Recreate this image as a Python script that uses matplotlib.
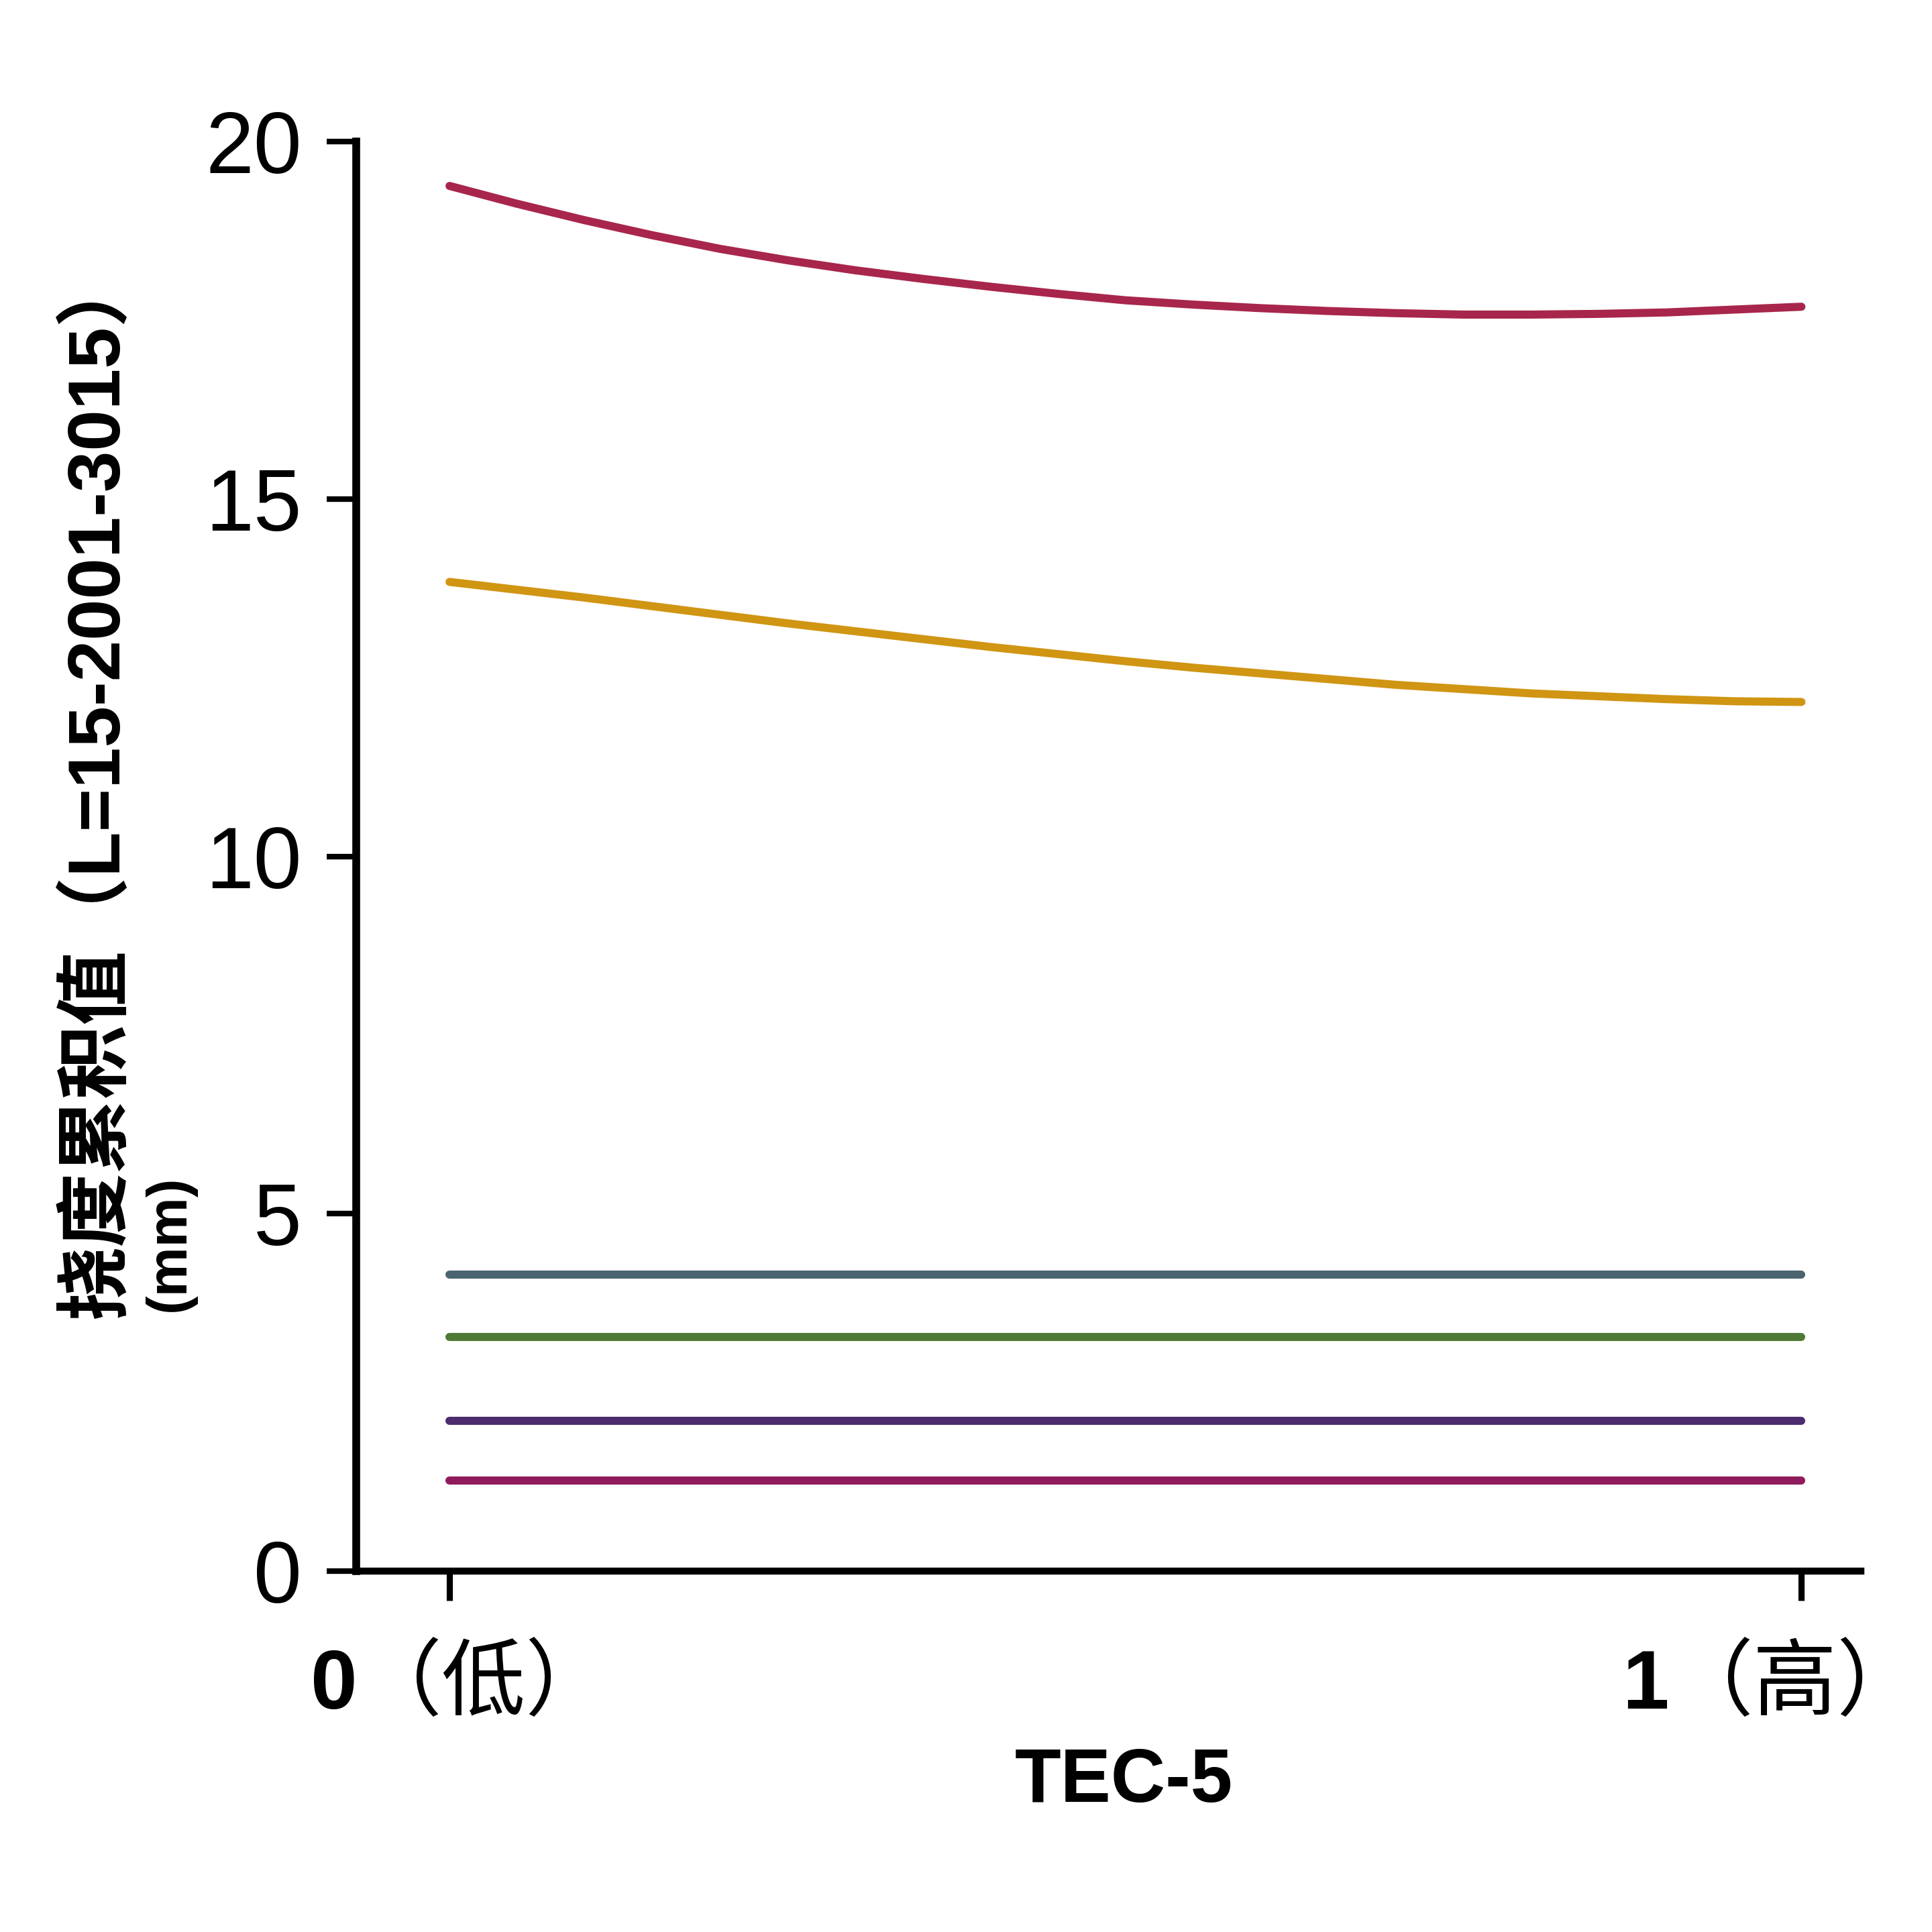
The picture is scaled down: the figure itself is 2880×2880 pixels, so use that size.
import numpy as np
import matplotlib
matplotlib.use("Agg")
import matplotlib.pyplot as plt
import matplotlib.transforms as mtransforms

plt.rcParams['font.family'] = ['Liberation Sans', 'Noto Sans CJK SC', 'DejaVu Sans']

# TEC-5 level (0 = low, 1 = high)
x_curve = [0.0, 0.05, 0.1, 0.15, 0.2, 0.25, 0.3, 0.35, 0.4, 0.45, 0.5,
           0.55, 0.6, 0.65, 0.7, 0.75, 0.8, 0.85, 0.9, 0.95, 1.0]
red_vals = [19.38, 19.13, 18.90, 18.69, 18.50, 18.34, 18.20, 18.08, 17.97, 17.87, 17.78,
            17.72, 17.67, 17.63, 17.60, 17.58, 17.58, 17.59, 17.61, 17.65, 17.69]
yellow_vals = [13.84, 13.73, 13.62, 13.50, 13.38, 13.26, 13.15, 13.04, 12.93, 12.83, 12.73,
               12.64, 12.56, 12.48, 12.40, 12.34, 12.28, 12.24, 12.20, 12.17, 12.16]

x_flat = [0.0, 1.0]
teal_vals = [4.15, 4.15]
green_vals = [3.28, 3.28]
purple_vals = [2.10, 2.10]
magenta_vals = [1.27, 1.27]

xtick_pos = [0, 1]
xtick_nums = ["0", "1"]
xtick_words = ["（低）", "（高）"]
ytick_pos = [0, 5, 10, 15, 20]

fig = plt.figure(figsize=(9.6, 9.6), dpi=300)
ax = fig.add_axes([0.1844, 0.1868, 0.7788, 0.7399])

lw = 2.9
ax.plot(x_curve, red_vals, color="#A8264B", lw=lw, solid_capstyle="round")
ax.plot(x_curve, yellow_vals, color="#D09513", lw=lw, solid_capstyle="round")
ax.plot(x_flat, teal_vals, color="#4A6470", lw=lw, solid_capstyle="round")
ax.plot(x_flat, green_vals, color="#4F7A36", lw=lw, solid_capstyle="round")
ax.plot(x_flat, purple_vals, color="#4C2B6E", lw=lw, solid_capstyle="round")
ax.plot(x_flat, magenta_vals, color="#8F1B5C", lw=lw, solid_capstyle="round")

ax.set_xlim(-0.069, 1.044)
ax.set_ylim(0, 20)

for s in ["top", "right"]:
    ax.spines[s].set_visible(False)
ax.spines["left"].set_linewidth(2.8)
ax.spines["bottom"].set_linewidth(2.5)

ax.set_yticks(ytick_pos)
ax.set_yticklabels([str(v) for v in ytick_pos], fontsize=31)
ax.tick_params(axis="y", length=10.5, width=2.0, pad=9)

ax.set_xticks(xtick_pos)
ax.set_xticklabels(["", ""])
ax.tick_params(axis="x", length=10.5, width=2.2)

# tick labels: bold digit + regular CJK word, sitting a bit left of the tick
trans = mtransforms.blended_transform_factory(ax.transData, ax.transAxes)
for pos, num, word, shift in zip(xtick_pos, xtick_nums, xtick_words, [-0.068, -0.098]):
    ax.text(pos + shift, -0.0962, num, transform=trans, ha="right", va="baseline",
            fontsize=30, fontweight="bold", clip_on=False)
    ax.text(pos + shift, -0.0962, word, transform=trans, ha="left", va="baseline",
            fontsize=30, family=["Noto Sans CJK SC"], clip_on=False)

ax.set_xlabel("TEC-5", fontsize=27, fontweight="bold", va="center")
ax.xaxis.set_label_coords(0.510, -0.148)

fig.text(147 / 2880, 1 - 1170 / 2880, "挠度累积值（L=15-2001-3015）",
         rotation=90, ha="center", va="center", fontsize=26.5, fontweight="bold")
fig.text(253 / 2880, 1 - 1853 / 2880, "(mm)",
         rotation=90, ha="center", va="center", fontsize=20, fontweight="bold")

fig.savefig("out.png", dpi=300, facecolor="white")
